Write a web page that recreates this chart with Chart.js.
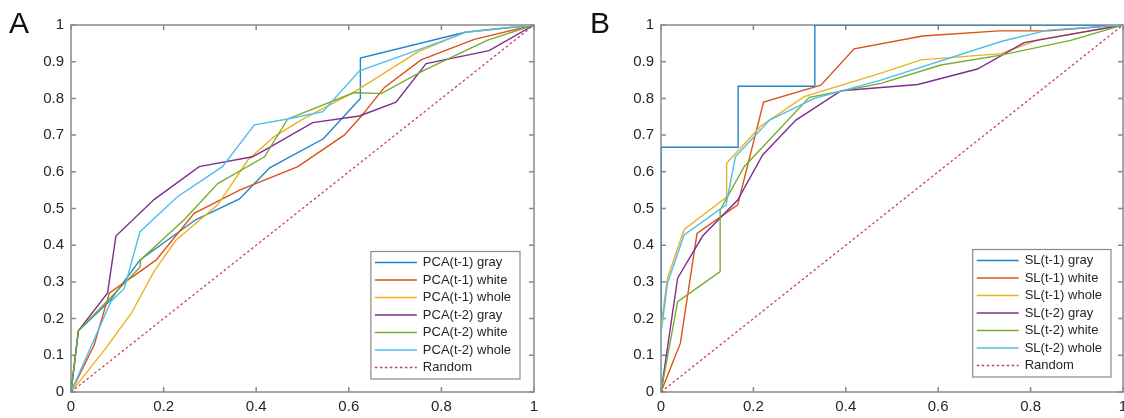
<!DOCTYPE html>
<html>
<head>
<meta charset="utf-8">
<script src="https://cdn.jsdelivr.net/npm/chart.js@4.4.0/dist/chart.umd.min.js"></script>
<style>
  body { margin: 0; background: #fff; width: 1124px; height: 418px; overflow: hidden; position: relative; font-family: "Liberation Sans", Arial, sans-serif; }
  .panel { position: absolute; top: 0; width: 562px; height: 418px; }
  .letter { position: absolute; top: 6px; font-size: 30px; color: #111; }
</style>
</head>
<body>
<div class="panel" style="left:0"><canvas id="chartA" width="562" height="418"></canvas></div>
<div class="panel" style="left:562px"><canvas id="chartB" width="562" height="418"></canvas></div>
<div class="letter" style="left:9px">A</div>
<div class="letter" style="left:590px">B</div>
<script>
// ROC curves, [false positive rate, true positive rate]
const pcaT1Gray  = [[0,0],[0.016,0.167],[0.085,0.25],[0.149,0.36],[0.27,0.47],[0.364,0.526],[0.429,0.611],[0.545,0.69],[0.625,0.80],[0.625,0.91],[0.853,0.981],[1,1]];
const pcaT1White = [[0,0],[0.05,0.128],[0.083,0.27],[0.151,0.33],[0.184,0.36],[0.266,0.487],[0.364,0.55],[0.49,0.614],[0.54,0.657],[0.59,0.70],[0.626,0.75],[0.677,0.83],[0.756,0.905],[0.871,0.961],[1,1]];
const pcaT1Whole = [[0,0],[0.072,0.114],[0.13,0.214],[0.18,0.33],[0.227,0.414],[0.317,0.51],[0.382,0.632],[0.439,0.696],[0.497,0.741],[0.612,0.818],[0.749,0.927],[0.85,0.98],[1,1]];
const pcaT2Gray  = [[0,0],[0.016,0.167],[0.079,0.27],[0.097,0.425],[0.18,0.525],[0.277,0.614],[0.392,0.641],[0.425,0.664],[0.522,0.734],[0.623,0.752],[0.702,0.79],[0.767,0.895],[0.903,0.93],[1,1]];
const pcaT2White = [[0,0],[0.016,0.167],[0.149,0.34],[0.15,0.36],[0.245,0.47],[0.317,0.568],[0.418,0.641],[0.468,0.744],[0.50,0.76],[0.612,0.816],[0.67,0.813],[0.763,0.877],[0.90,0.959],[1,1]];
const pcaT2Whole = [[0,0],[0.086,0.246],[0.115,0.282],[0.149,0.437],[0.23,0.532],[0.327,0.614],[0.396,0.728],[0.468,0.744],[0.544,0.764],[0.623,0.875],[0.738,0.927],[0.853,0.98],[1,1]];

const slT1Gray  = [[0,0],[0,0.667],[0.167,0.667],[0.167,0.833],[0.333,0.833],[0.333,1],[1,1]];
const slT1White = [[0,0],[0.042,0.133],[0.078,0.432],[0.166,0.51],[0.222,0.79],[0.346,0.836],[0.418,0.935],[0.566,0.97],[0.732,0.984],[0.837,0.984],[1,1]];
const slT1Whole = [[0,0],[0,0.18],[0.014,0.31],[0.05,0.443],[0.141,0.53],[0.142,0.623],[0.216,0.725],[0.31,0.805],[0.476,0.869],[0.563,0.905],[0.736,0.922],[0.815,0.959],[1,1]];
const slT2Gray  = [[0,0],[0.036,0.31],[0.09,0.425],[0.166,0.523],[0.22,0.646],[0.292,0.741],[0.39,0.821],[0.556,0.838],[0.685,0.88],[0.786,0.952],[0.88,0.973],[1,1]];
const slT2White = [[0,0],[0.036,0.246],[0.128,0.328],[0.128,0.496],[0.18,0.614],[0.321,0.803],[0.476,0.841],[0.606,0.891],[0.736,0.918],[0.887,0.958],[1,1]];
const slT2Whole = [[0,0],[0,0.16],[0.014,0.296],[0.05,0.428],[0.141,0.51],[0.161,0.641],[0.235,0.741],[0.332,0.80],[0.476,0.85],[0.736,0.955],[0.837,0.986],[1,1]];

const randomLine = [[0,0],[1,1]];

const pcaLabels = ['PCA(t-1) gray','PCA(t-1) white','PCA(t-1) whole','PCA(t-2) gray','PCA(t-2) white','PCA(t-2) whole','Random'];
const slLabels  = ['SL(t-1) gray','SL(t-1) white','SL(t-1) whole','SL(t-2) gray','SL(t-2) white','SL(t-2) whole','Random'];
const seriesColors = ['#2383c8','#d95319','#edb120','#7e2f8e','#77ac30','#4dbeee','#c9405e'];

const xTicks = [0, 0.2, 0.4, 0.6, 0.8, 1];
const yTicks = [0, 0.1, 0.2, 0.3, 0.4, 0.5, 0.6, 0.7, 0.8, 0.9, 1];

const axisGray = '#8a8a8a';
const font = { family: '"Liberation Sans", Arial, sans-serif', size: 15 };

// box round the plot plus inward ticks on all four sides
const matlabBox = {
  id: 'matlabBox',
  beforeDatasetsDraw(chart) {
    const { ctx, chartArea: a, scales: { x, y } } = chart;
    ctx.save();
    ctx.strokeStyle = axisGray;
    ctx.lineWidth = 1.5;
    ctx.strokeRect(a.left, a.top, a.right - a.left, a.bottom - a.top);
    ctx.beginPath();
    xTicks.forEach(v => {
      const px = x.getPixelForValue(v);
      ctx.moveTo(px, a.bottom); ctx.lineTo(px, a.bottom - 5);
      ctx.moveTo(px, a.top); ctx.lineTo(px, a.top + 5);
    });
    yTicks.forEach(v => {
      const py = y.getPixelForValue(v);
      ctx.moveTo(a.left, py); ctx.lineTo(a.left + 5, py);
      ctx.moveTo(a.right, py); ctx.lineTo(a.right - 5, py);
    });
    ctx.stroke();
    ctx.restore();
  }
};

// legend drawn inside the plot, lower right
const boxLegend = {
  id: 'boxLegend',
  afterDatasetsDraw(chart, args, opts) {
    const { ctx, chartArea: a } = chart;
    const sets = chart.data.datasets;
    ctx.save();
    ctx.font = '13px "Liberation Sans", Arial, sans-serif';
    const textW = Math.max(...sets.map(d => ctx.measureText(d.label).width));
    const rowH = 17.5;
    const w = 52 + textW + 9;
    const h = rowH * sets.length + 5;
    const left = a.right - opts.right - w;
    const top = a.bottom - opts.bottom - h;
    ctx.fillStyle = '#fff';
    ctx.fillRect(left, top, w, h);
    ctx.strokeStyle = axisGray;
    ctx.lineWidth = 1.2;
    ctx.strokeRect(left, top, w, h);
    sets.forEach((d, i) => {
      const cy = top + 11 + i * rowH;
      ctx.beginPath();
      ctx.strokeStyle = d.borderColor;
      ctx.lineWidth = 1.6;
      ctx.setLineDash(d.borderDash || []);
      ctx.moveTo(left + 4, cy);
      ctx.lineTo(left + 46, cy);
      ctx.stroke();
      ctx.setLineDash([]);
      ctx.fillStyle = '#262626';
      ctx.textBaseline = 'middle';
      ctx.fillText(d.label, left + 52, cy);
    });
    ctx.restore();
  }
};

function makeChart(id, series, labels, yAxisWidth, padRight, legendPos) {
  const datasets = series.map((pts, i) => ({
    label: labels[i],
    data: pts.map(p => ({ x: p[0], y: p[1] })),
    borderColor: seriesColors[i],
    borderWidth: i === series.length - 1 ? 1.3 : 1.4,
    borderDash: i === series.length - 1 ? [2.5, 2.5] : undefined,
    pointRadius: 0,
    showLine: true,
    fill: false,
    order: series.length - 1 - i
  }));
  return new Chart(document.getElementById(id), {
    type: 'scatter',
    data: { datasets },
    options: {
      responsive: false,
      animation: false,
      devicePixelRatio: 1,
      layout: { padding: { left: 0, right: padRight, top: 25, bottom: 0 } },
      plugins: {
        legend: { display: false },
        tooltip: { enabled: false },
        boxLegend: legendPos
      },
      scales: {
        x: {
          type: 'linear', min: 0, max: 1,
          afterBuildTicks: s => { s.ticks = xTicks.map(v => ({ value: v })); },
          ticks: { color: '#262626', font, padding: 6, maxRotation: 0, autoSkip: false,
                   callback: v => String(+v.toFixed(1)) },
          grid: { display: false, drawTicks: false },
          border: { display: false },
          afterFit: s => { s.height = 26; s.paddingLeft = 0; s.paddingRight = 0; }
        },
        y: {
          type: 'linear', min: 0, max: 1,
          afterBuildTicks: s => { s.ticks = yTicks.map(v => ({ value: v })); },
          ticks: { color: '#262626', font, padding: 7, autoSkip: false,
                   callback: v => String(+v.toFixed(1)) },
          grid: { display: false, drawTicks: false },
          border: { display: false },
          afterFit: s => { s.width = yAxisWidth; s.paddingTop = 0; s.paddingBottom = 0; }
        }
      }
    },
    plugins: [matlabBox, boxLegend]
  });
}

makeChart('chartA',
  [pcaT1Gray, pcaT1White, pcaT1Whole, pcaT2Gray, pcaT2White, pcaT2Whole, randomLine],
  pcaLabels, 71, 28, { right: 14, bottom: 13 });

makeChart('chartB',
  [slT1Gray, slT1White, slT1Whole, slT2Gray, slT2White, slT2Whole, randomLine],
  slLabels, 99, 1, { right: 12, bottom: 15 });
</script>
</body>
</html>
